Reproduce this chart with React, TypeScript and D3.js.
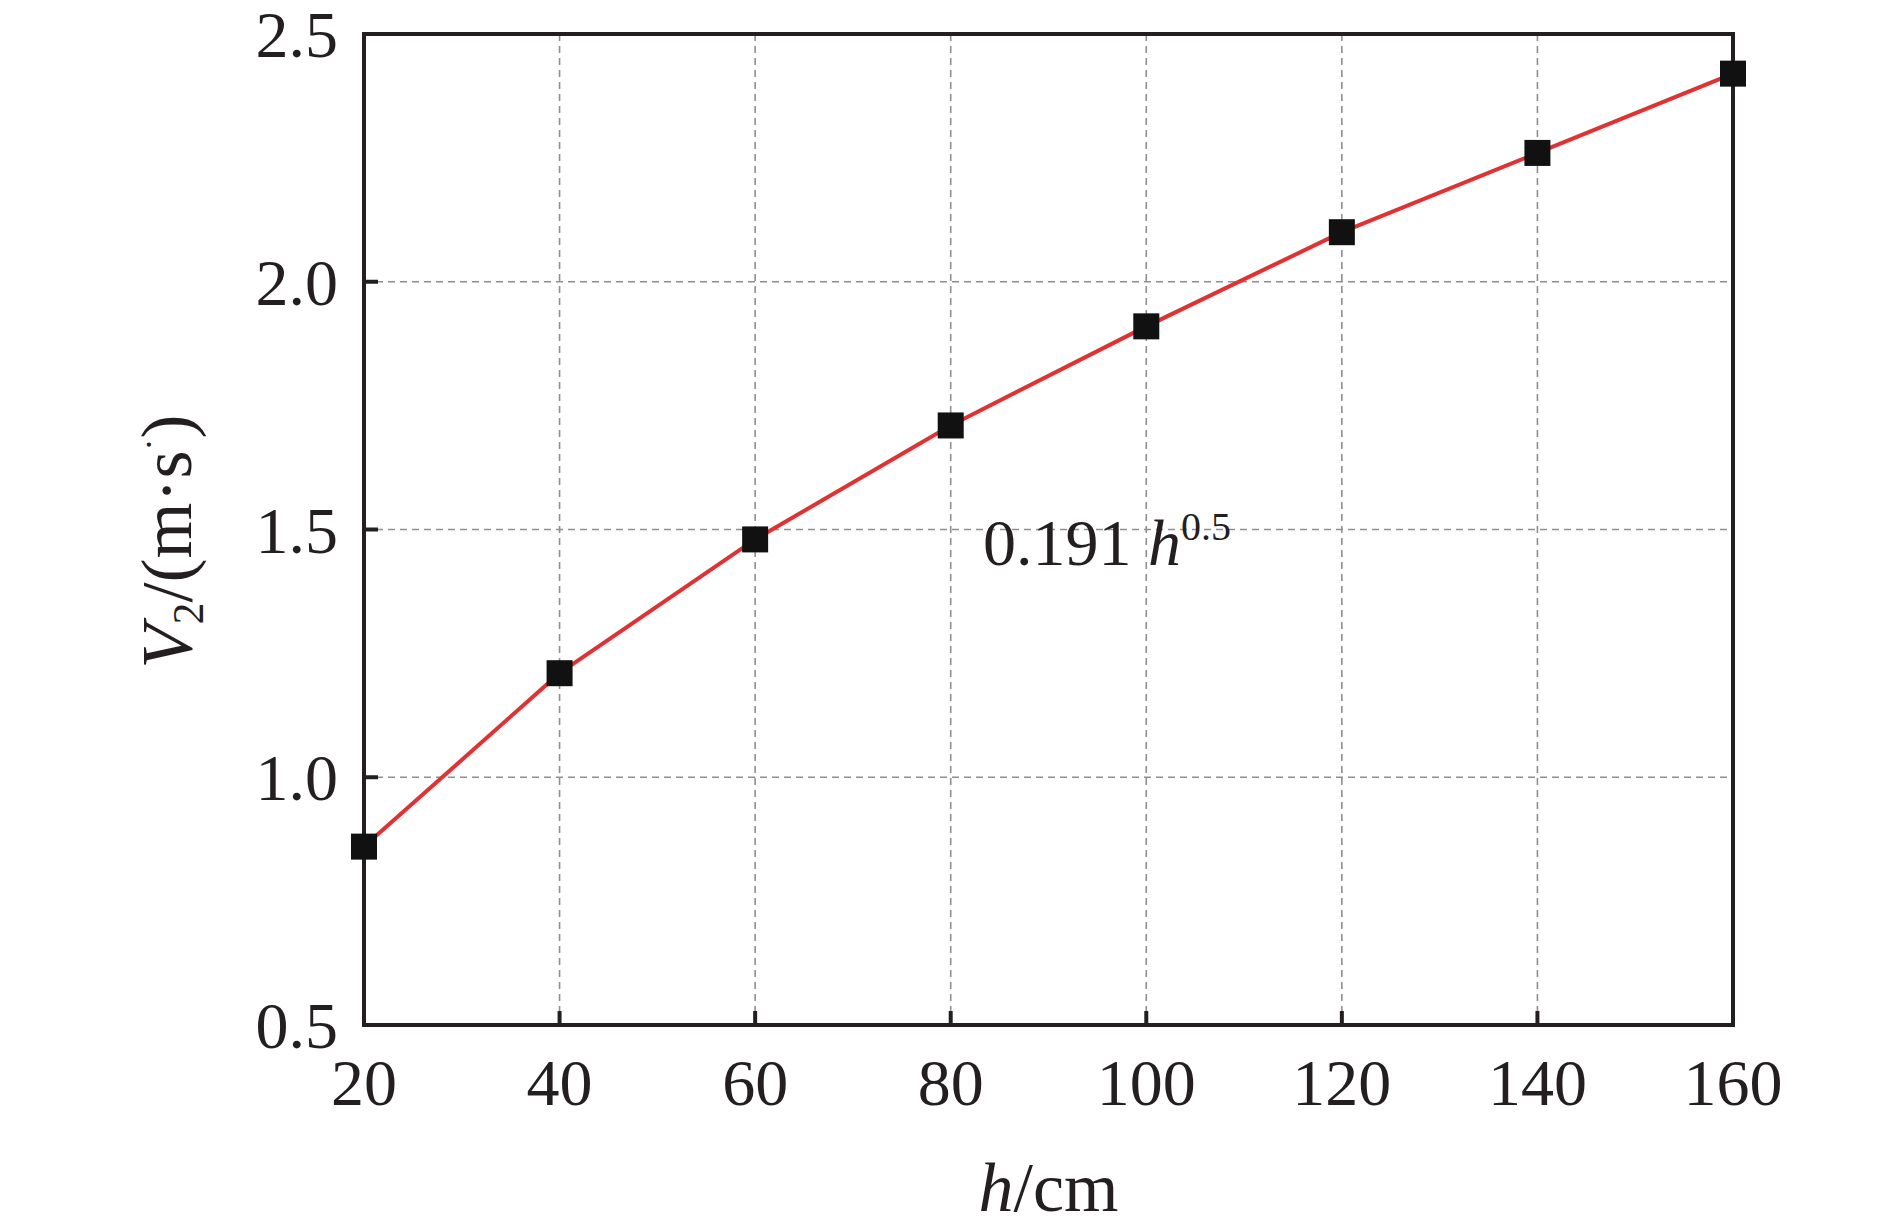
import React from "react";
import * as d3 from "d3";

const hValues = [20, 40, 60, 80, 100, 120, 140, 160];
const v2Values = [0.86, 1.21, 1.48, 1.71, 1.91, 2.1, 2.26, 2.42];
const xTicks = [20, 40, 60, 80, 100, 120, 140, 160];
const yTicks = [0.5, 1.0, 1.5, 2.0, 2.5];
const annotationCoef = "0.191";
const annotationExp = "0.5";

const W = 1890;
const H = 1231;
const left = 364;
const right = 1733;
const top = 34;
const bottom = 1025;
const FONT = "'Liberation Serif', 'Times New Roman', serif";
const TXT = "#231f20";

export default function App() {
  const x = d3.scaleLinear().domain([20, 160]).range([left, right]);
  const y = d3.scaleLinear().domain([0.5, 2.5]).range([bottom, top]);
  const line = d3
    .line<number>()
    .x((_, i) => x(hValues[i]))
    .y((d) => y(d))(v2Values) as string;
  const ms = 26;
  const tick = 14;

  return (
    <svg
      width={W}
      height={H}
      style={{ position: "absolute", left: 0, top: 0, background: "#fff" }}
      fontFamily={FONT}
    >
      {/* grid */}
      {xTicks
        .filter((t) => t !== 20 && t !== 160)
        .map((t) => (
          <line
            key={"gx" + t}
            x1={x(t)}
            x2={x(t)}
            y1={top}
            y2={bottom}
            stroke="#8f8f8f"
            strokeWidth={1.6}
            strokeDasharray="7 5"
          />
        ))}
      {yTicks
        .filter((t) => t !== 0.5 && t !== 2.5)
        .map((t) => (
          <line
            key={"gy" + t}
            x1={left}
            x2={right}
            y1={y(t)}
            y2={y(t)}
            stroke="#8f8f8f"
            strokeWidth={1.6}
            strokeDasharray="7 5"
          />
        ))}
      {/* ticks */}
      {xTicks.map((t) => (
        <line key={"tx" + t} x1={x(t)} x2={x(t)} y1={bottom} y2={bottom - tick} stroke="#231f20" strokeWidth={4} />
      ))}
      {yTicks.map((t) => (
        <line key={"ty" + t} x1={left} x2={left + tick} y1={y(t)} y2={y(t)} stroke="#231f20" strokeWidth={4} />
      ))}
      {/* frame */}
      <rect x={left} y={top} width={right - left} height={bottom - top} fill="none" stroke="#231f20" strokeWidth={4} />
      {/* data line */}
      <path d={line} fill="none" stroke="#e03232" strokeWidth={4} />
      {/* markers */}
      {v2Values.map((v, i) => (
        <rect
          key={"m" + i}
          x={x(hValues[i]) - ms / 2}
          y={y(v) - ms / 2}
          width={ms}
          height={ms}
          fill="#111"
        />
      ))}
      {/* tick labels */}
      {xTicks.map((t) => (
        <text key={"lx" + t} x={x(t)} y={1105} textAnchor="middle" fontSize={66} fill={TXT}>
          {t}
        </text>
      ))}
      {yTicks.map((t) => (
        <text key={"ly" + t} x={338} y={y(t) + 23} textAnchor="end" fontSize={66} fill={TXT}>
          {t.toFixed(1)}
        </text>
      ))}
      {/* x label */}
      <text x={(left + right) / 2} y={1211} textAnchor="middle" fontSize={70} fill={TXT}>
        <tspan fontStyle="italic">h</tspan>
        <tspan>/cm</tspan>
      </text>
      {/* y label */}
      <text
        transform={`translate(191, ${(top + bottom) / 2 + 12}) rotate(-90)`}
        textAnchor="middle"
        fontSize={72}
        fill={TXT}
      >
        <tspan fontStyle="italic">V</tspan>
        <tspan fontSize={44} dy={12}>2</tspan>
        <tspan dy={-12}>/(m·s</tspan>
        <tspan fontSize={36} dy={-30}>·</tspan>
        <tspan dy={30}>)</tspan>
      </text>
      {/* annotation */}
      <text x={983} y={565} fontSize={66} fill={TXT}>
        <tspan>{annotationCoef} </tspan>
        <tspan fontStyle="italic">h</tspan>
        <tspan fontSize={40} dy={-25}>{annotationExp}</tspan>
      </text>
    </svg>
  );
}
